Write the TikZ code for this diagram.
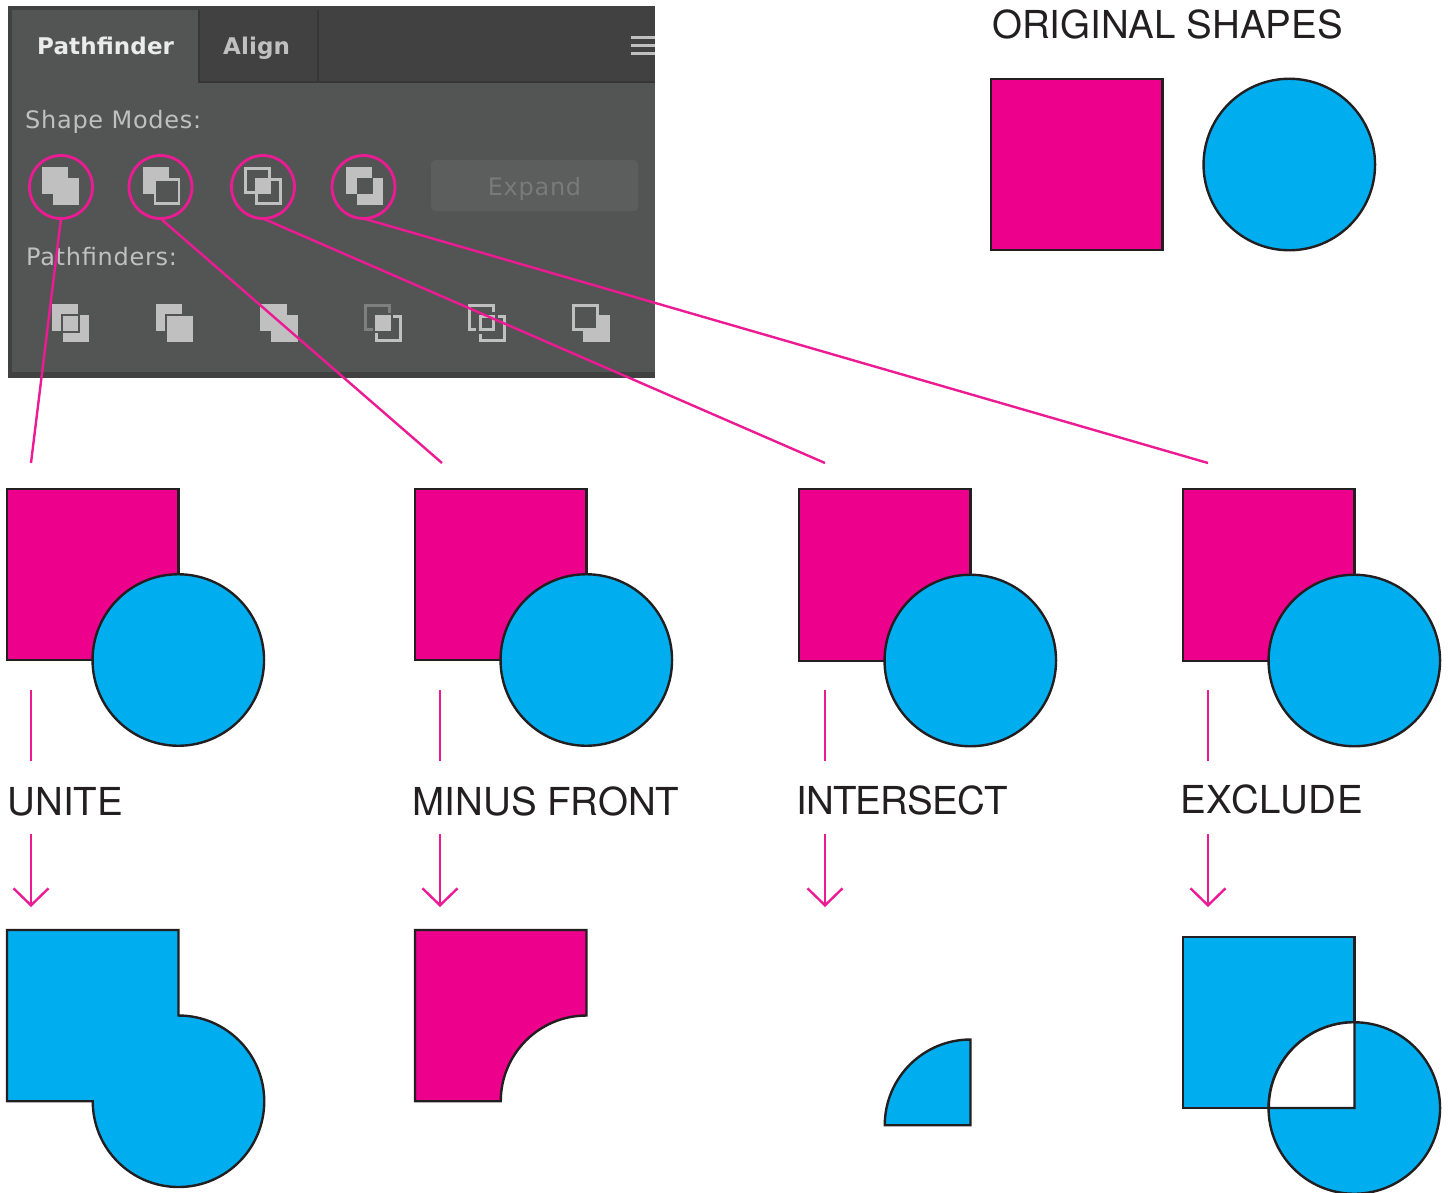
\documentclass[tikz,border=0pt]{standalone}
\usepackage{fontspec}
\usepackage{tikz}
\usetikzlibrary{arrows.meta}
\newfontfamily\uifont[LetterSpace=3]{DejaVu Sans}
\newfontfamily\uibold[LetterSpace=0.5]{DejaVu Sans}
\newfontfamily\labelfont{TeX Gyre Heros}
\definecolor{magfill}{HTML}{EC008C}
\definecolor{cyanfill}{HTML}{00AEEF}
\definecolor{inkline}{HTML}{231F20}
\definecolor{pinkline}{HTML}{EC1A93}
\definecolor{panelbg}{HTML}{535554}
\definecolor{paneldark}{HTML}{414141}
\definecolor{paneledge}{HTML}{363636}
\definecolor{iconfg}{HTML}{C0C0C0}
\tikzset{
    sqshape/.style={rectangle,draw=inkline,line width=2.4pt,minimum size=171.5pt,inner sep=0pt,outer sep=0pt},
    circshape/.style={circle,draw=inkline,line width=2.4pt,minimum size=171.5pt,inner sep=0pt,outer sep=0pt},
    cutshape/.style={draw=inkline,line width=2.4pt,line join=miter},
    caption/.style={anchor=base west,inner sep=0pt,text=inkline,font=\labelfont\fontsize{38.5}{40}\selectfont},
    uitext/.style={anchor=base west,inner sep=0pt,font=\uifont\fontsize{24}{26}\selectfont},
    tabtext/.style={anchor=base west,inner sep=0pt,font=\uibold\bfseries\fontsize{23}{25}\selectfont},
    iconsolid/.style={rectangle,fill=iconfg,minimum size=26.5pt,inner sep=0pt,outer sep=0pt},
    iconopen/.style={rectangle,draw=iconfg,line width=2.8pt,minimum size=24pt,inner sep=0pt,outer sep=0pt},
    modering/.style={circle,draw=pinkline,line width=2.8pt,minimum size=63pt,inner sep=0pt,outer sep=0pt},
    pinkrule/.style={draw=pinkline,line width=2.4pt},
    pinkarrow/.style={draw=pinkline,line width=2.4pt,-{Straight Barb[length=17pt,width=35pt]}}
}
\begin{document}
\begin{tikzpicture}[x=1pt,y=-1pt]
        \useasboundingbox (0,0) rectangle (1450,1192);
        \clip (0,0) rectangle (1450,1192);
        % panel
        \fill[paneldark] (8,6) rectangle (655,378);
        \fill[panelbg] (12,82) rectangle (655,372);
        \fill[panelbg] (12,10) rectangle (199,82);
        \draw[color=paneledge,line width=2pt] (199,10) -- (199,82) -- (655,82);
        \draw[color=paneledge,line width=2pt] (318,10) -- (318,82);
        \node[tabtext,text=white!92!black] (tabpath) at (37,54.5) {Pathfinder};
        \node[tabtext,text=iconfg] (tabalign) at (223,54.5) {Align};
        \node[uitext,text=iconfg] (modestext) at (25,128.5) {Shape Modes:};
        \node[uitext,text=iconfg] (findtext) at (26,265) {Pathfinders:};
        \fill[iconfg] (631,36) rectangle (655,38.5);
        \fill[iconfg] (631,44) rectangle (655,46.5);
        \fill[iconfg] (631,52) rectangle (655,54.5);
        \node[rectangle,rounded corners=4pt,fill=white!5!panelbg,minimum width=207pt,minimum height=51pt,inner sep=0pt] (expandbtn) at (534.5,185.5) {};
        \node[uitext,anchor=base,text=white!22!panelbg] (expandtext) at (534.5,195) {Expand};
        % shape modes icons
        \node[iconsolid] (ia1) at (55,180.5) {};
        \node[iconsolid] (ib1) at (66,191.5) {};
        \node[iconsolid] (ia2) at (156,180.5) {};
        \node[iconopen,fill=panelbg] (ib2) at (167,191.5) {};
        \node[iconsolid,minimum width=14.5pt,minimum height=14.5pt] (ic3) at (263,185) {};
        \node[iconopen] (ia3) at (257.5,180.5) {};
        \node[iconopen] (ib3) at (268.5,191.5) {};
        \node[iconsolid] (ia4) at (359,180.5) {};
        \node[iconsolid] (ib4) at (370,191.5) {};
        \node[iconsolid,fill=panelbg,minimum size=16pt] (ic4) at (364.5,186) {};
        % pathfinders icons
        \node[iconsolid] (pa1) at (65,317.5) {};
        \node[iconsolid] (pb1) at (76,328.5) {};
        \node[iconsolid,draw=panelbg,line width=2pt,minimum size=17pt] (pc1) at (70.5,323) {};
        \node[iconsolid] (pa2) at (169,317.5) {};
        \node[iconsolid,draw=panelbg,line width=2pt,minimum size=28pt] (pb2) at (180,328.5) {};
        \node[iconsolid] (pa3) at (273.5,317.5) {};
        \node[iconsolid] (pb3) at (284.5,328.5) {};
        \node[iconopen,draw=white!25!panelbg] (pa4) at (377.5,317.5) {};
        \node[iconopen] (pb4) at (388.5,328.5) {};
        \node[iconsolid,draw=panelbg,line width=2pt,minimum size=18pt] (pc4) at (383,323) {};
        \node[iconopen] (pa5) at (481.5,317.5) {};
        \node[iconopen] (pb5) at (492.5,328.5) {};
        \node[rectangle,draw=panelbg,line width=5pt,minimum size=17pt,inner sep=0pt] (pd5) at (487,323) {};
        \node[rectangle,draw=iconfg,line width=2pt,minimum size=14pt,inner sep=0pt] (pc5) at (487,323) {};
        \node[iconsolid] (pb6) at (596.5,328.5) {};
        \node[iconopen,fill=panelbg] (pa6) at (585.5,317.5) {};
        % original shapes
        \node[caption] (origtext) at (992,38) {ORIGINAL SHAPES};
        \node[sqshape,fill=magfill] (origsq) at (1076.8,164.5) {};
        \node[circshape,fill=cyanfill] (origcirc) at (1289.3,164.5) {};
        % first row
        \node[sqshape,fill=magfill] (sq1) at (92.8,574.5) {};
        \node[circshape,fill=cyanfill] (circ1) at (178.3,660) {};
        \node[sqshape,fill=magfill] (sq2) at (500.8,574.5) {};
        \node[circshape,fill=cyanfill] (circ2) at (586.3,660) {};
        \node[sqshape,fill=magfill] (sq3) at (884.8,575) {};
        \node[circshape,fill=cyanfill] (circ3) at (970.3,660.5) {};
        \node[sqshape,fill=magfill] (sq4) at (1268.8,575) {};
        \node[circshape,fill=cyanfill] (circ4) at (1354.3,660.5) {};
        % captions
        \node[caption] (unitetext) at (7.5,815) {UNITE};
        \node[caption] (minustext) at (412.5,815.5) {MINUS FRONT};
        \node[caption,font=\labelfont\addfontfeature{LetterSpace=-2}\fontsize{38.5}{40}\selectfont] (intertext) at (796,814) {INTERSECT};
        \node[caption,font=\labelfont\addfontfeature{LetterSpace=1.5}\fontsize{38.5}{40}\selectfont] (excltext) at (1180.5,813) {EXCLUDE};
        % results
        \draw[cutshape,fill=cyanfill] (7,930) -- (178.5,930) -- (178.5,1015.5) arc (90:-180:85.75pt) -- (7,1101.2) -- cycle;
        \draw[cutshape,fill=magfill] (415,930) -- (586.5,930) -- (586.5,1015.5) arc (90:180:85.75pt) -- (415,1101.2) -- cycle;
        \draw[cutshape,fill=cyanfill] (970.5,1039.5) arc (90:180:85.75pt) -- (970.5,1125.2) -- cycle;
        \node[sqshape,fill=cyanfill] (exsq) at (1268.8,1022.5) {};
        \node[circshape,fill=cyanfill] (excirc) at (1354.3,1108) {};
        \draw[cutshape,fill=white] (1354.5,1022.2) arc (90:180:85.75pt) -- (1354.5,1108) -- cycle;
        % rings and leader lines
        \node[modering] (ring1) at (61,187) {};
        \node[modering] (ring2) at (160.5,187) {};
        \node[modering] (ring3) at (263,187) {};
        \node[modering] (ring4) at (363.5,187) {};
        \coordinate (top1) at (31,463);
        \coordinate (top2) at (442,463);
        \coordinate (top3) at (825,463);
        \coordinate (top4) at (1208,463);
        \draw[pinkrule] (ring1.south) -- (top1);
        \draw[pinkrule] (ring2.south) -- (top2);
        \draw[pinkrule] (ring3.south) -- (top3);
        \draw[pinkrule] (ring4.south) -- (top4);
        % stubs over the captions
        \coordinate (ua1) at (31,690);
        \coordinate (ub1) at (31,761);
        \coordinate (ua2) at (440,690);
        \coordinate (ub2) at (440,761);
        \coordinate (ua3) at (825,690);
        \coordinate (ub3) at (825,761);
        \coordinate (ua4) at (1208,690);
        \coordinate (ub4) at (1208,761);
        \draw[pinkrule] (ua1) -- (ub1);
        \draw[pinkrule] (ua2) -- (ub2);
        \draw[pinkrule] (ua3) -- (ub3);
        \draw[pinkrule] (ua4) -- (ub4);
        % arrows under the captions
        \coordinate (da1) at (31,834);
        \coordinate (db1) at (31,907);
        \coordinate (da2) at (440,834);
        \coordinate (db2) at (440,907);
        \coordinate (da3) at (825,834);
        \coordinate (db3) at (825,907);
        \coordinate (da4) at (1208,834);
        \coordinate (db4) at (1208,907);
        \draw[pinkarrow] (da1) -- (db1);
        \draw[pinkarrow] (da2) -- (db2);
        \draw[pinkarrow] (da3) -- (db3);
        \draw[pinkarrow] (da4) -- (db4);
    \end{tikzpicture}
\end{document}
